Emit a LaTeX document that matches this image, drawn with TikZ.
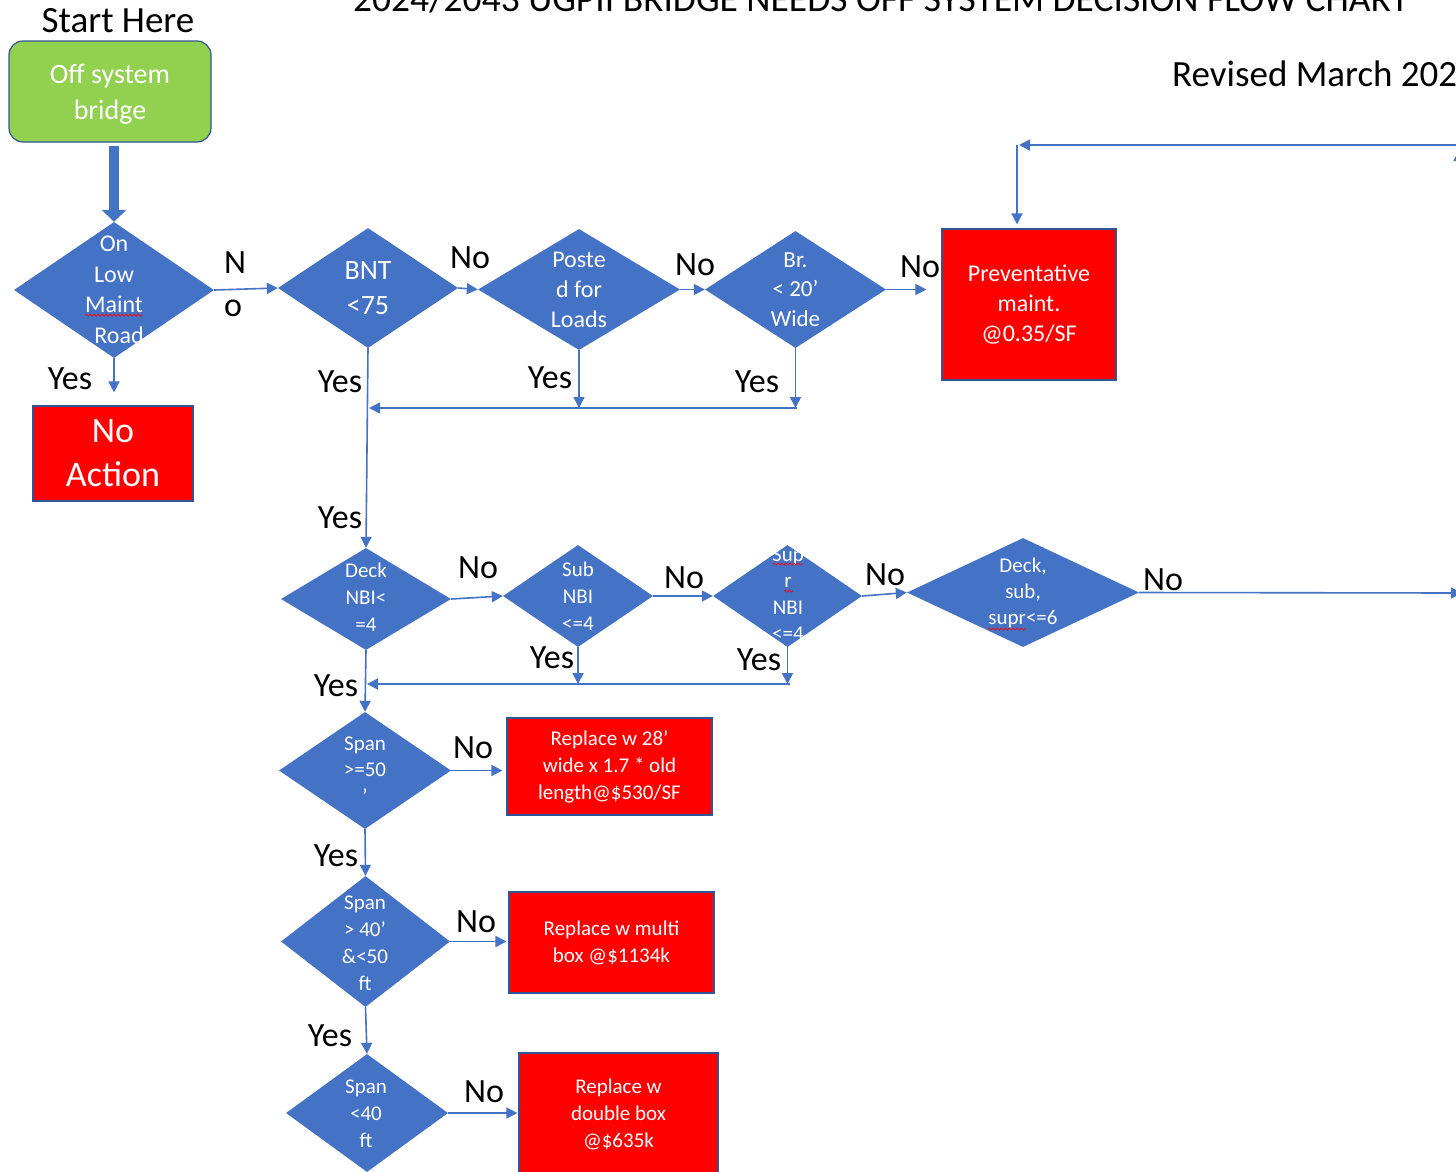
\documentclass[tikz,border=0pt]{standalone}
\usepackage{fontspec}
\setmainfont{Carlito}
\usetikzlibrary{shapes.geometric,arrows.meta,decorations.pathmorphing}
\definecolor{obl}{RGB}{68,114,196}
\definecolor{ogr}{RGB}{146,208,80}
\definecolor{oedge}{RGB}{47,85,151}
\definecolor{ored}{RGB}{255,0,0}
\newcommand\fz[2]{\fontsize{#1pt}{#2pt}\selectfont}
\begin{document}
\begin{tikzpicture}[x=1pt,y=-1pt,
  dia/.style={diamond, fill=obl, draw=none, inner sep=0pt},
  tx/.style={text=white, align=center, inner sep=0pt},
  lbl/.style={font=\fz{34}{40}, inner sep=0pt, text=black},
  con/.style={draw=obl, line width=1.6pt, -{Triangle[length=11pt,width=11pt]}},
  redbox/.style={rectangle, fill=ored, draw=oedge, line width=1.2pt, inner sep=0pt, text=white, align=center},
  squig/.style={draw=red, line width=0.7pt, decorate, decoration={snake, amplitude=1pt, segment length=4pt}},
]
\clip (0,0) rectangle (1456,1171);
\useasboundingbox (0,0) rectangle (1456,1171);

% titles
\node[anchor=base west, inner sep=0pt, font=\fz{37.5}{44}] (title) at (353,11) {2024/2043 UGPII BRIDGE NEEDS OFF SYSTEM DECISION FLOW CHART};
\node[anchor=base west, inner sep=0pt, font=\fz{37}{44}] (rev) at (1172,86) {Revised March 2024};
\node[anchor=base, inner sep=0pt, font=\fz{37}{44}] (sh) at (118,32) {Start Here};

% start box
\node[rectangle, rounded corners=14pt, fill=ogr, draw=oedge, line width=1.2pt, minimum width=202pt, minimum height=101pt, inner sep=0pt] (start) at (110,91.5) {};
\node[tx, font=\fz{28}{36}] (startt) at (110,94) {Off system\\bridge};

% diamonds
\node[dia, minimum width=200pt, minimum height=136pt] (d1) at (114,290) {};
\node[tx, font=\fz{24}{30.5}] (d1t) at (d1) {On\\Low\\Maint\\\hspace*{10pt}Road};
\node[dia, minimum width=180pt, minimum height=120pt] (d2) at (368,288) {};
\node[tx, font=\fz{28}{35}] (d2t) at (d2) {BNT\\<75};
\node[dia, minimum width=202pt, minimum height=121pt] (d3) at (579,289.5) {};
\node[tx, font=\fz{24}{30}] (d3t) at (d3) {Poste\\d for\\Loads};
\node[dia, minimum width=181pt, minimum height=117pt] (d4) at (795.5,289.5) {};
\node[tx, font=\fz{23}{29.5}] (d4t) at (d4) {Br.\\< 20’\\Wide};

\node[dia, minimum width=170pt, minimum height=102pt] (d5) at (366,599) {};
\node[tx, font=\fz{21}{27}] (d5t) at (366,597) {Deck\\NBI<\\=4};
\node[dia, minimum width=150pt, minimum height=102pt] (d6) at (578,596) {};
\node[tx, font=\fz{21}{27}] (d6t) at (d6) {Sub\\NBI\\<=4};
\node[dia, minimum width=149pt, minimum height=102pt] (d7) at (787.5,596) {};
\node[tx, font=\fz{21}{26.5}] (d7t) at (788,594) {Sup\\r\\NBI\\<=4};
\node[dia, minimum width=232pt, minimum height=109pt] (d8) at (1023,592.5) {};
\node[tx, font=\fz{21}{26}] (d8t) at (1023,593) {Deck,\\sub,\\supr<=6};

\node[dia, minimum width=172pt, minimum height=117pt] (d9) at (365,770.5) {};
\node[tx, font=\fz{21}{26.5}] (d9t) at (365,770) {Span\\>=50\\’};
\node[dia, minimum width=169pt, minimum height=131pt] (d10) at (365.5,941.5) {};
\node[tx, font=\fz{21}{27}] (d10t) at (365,943) {Span\\> 40’\\\&<50\\ft};
\node[dia, minimum width=162pt, minimum height=118pt] (d11) at (367,1113) {};
\node[tx, font=\fz{21}{27}] (d11t) at (366,1114) {Span\\<40\\ft};

% boxes
\node[redbox, minimum width=160pt, minimum height=95pt, font=\fz{36}{44}] (na) at (113,453.5) {No\\Action};
\node[redbox, minimum width=174pt, minimum height=151pt, font=\fz{24}{30}] (pm) at (1029,304.5) {Preventative\\maint.\\@0.35/SF};
\node[redbox, minimum width=205pt, minimum height=97pt, font=\fz{21}{27}] (b1) at (609.5,766.5) {Replace w 28’\\wide x 1.7 * old\\length@\$530/SF};
\node[redbox, minimum width=205pt, minimum height=101pt, font=\fz{21}{27}] (b2) at (611.5,942.5) {Replace w multi\\box @\$1134k};
\node[redbox, minimum width=199pt, minimum height=140pt] (b3) at (618.5,1123) {};
\node[tx, font=\fz{21}{27}] (b3t) at (618.5,1114) {Replace w\\double box\\@\$635k};

% spell-check squiggles
\draw[squig] (85,315) -- (143,315);
\draw[squig] (997,313) -- (1050,313);
\draw[squig] (773,564) -- (803,564);
\draw[squig] (784,591) -- (793,591);
\draw[squig] (988,629) -- (1026,629);

% coordinates
\coordinate (j1) at (797,408);
\coordinate (j2) at (790,684);
\coordinate (r2) at (1462,593);
\coordinate (lt1) at (1462,145);
\coordinate (lt2) at (1019,145);
\coordinate (lt3) at (1017,145);
\coordinate (ua1) at (1459,320);
\coordinate (ua2) at (1459,150);

% connectors
\draw[draw=obl, line width=10pt, -{Triangle[length=12pt,width=24pt]}, shorten <=3pt] (start.south -| d1.north) -- (d1.north);
\draw[con] (d1.east) -- (d2.west);
\draw[con] (d2.east) -- (d3.west);
\draw[con] (d3.east) -- (d4.west);
\draw[con, shorten >=15pt] (d4.east) -- (d4.east -| pm.west);
\draw[con, shorten >=13pt] (d1.south) -- (d1.south |- na.north);
\draw[con] (d2.south) -- (d5.north);
\draw[con] (d3.south) -- (d3.south |- j1);
\draw[con] (d4.south) -- (d4.south |- j1);
\draw[con] (j1) -- ([xshift=1pt]j1 -| d2.south);

\draw[con] (d5.east) -- (d6.west);
\draw[con] (d6.east) -- (d7.west);
\draw[con] (d7.east) -- (d8.west);
\draw[con] (d8.east) -- (r2);
\draw[con] (d6.south) -- (d6.south |- j2);
\draw[con] (d7.south) -- (d7.south |- j2);
\draw[con] (j2) -- ([xshift=1pt]j2 -| d5.south);
\draw[con] (d5.south) -- (d9.north);
\draw[con, shorten >=4pt] (d9.east) -- (d9.east -| b1.west);
\draw[con] (d9.south) -- (d10.north);
\draw[con, shorten >=2pt] (d10.east) -- (d10.east -| b2.west);
\draw[con] (d10.south) -- (d11.north);
\draw[con, shorten >=1pt] (d11.east) -- (d11.east -| b3.west);

\draw[con] (lt1) -- (lt2);
\draw[con, shorten >=4pt] (lt3) -- (lt3 |- pm.north);
\draw[con] (ua1) -- (ua2);

% labels
\node[lbl] (n1a) at (235,263) {N};
\node[lbl] (n1b) at (233,308) {o};
\node[lbl] (n2) at (470,258) {No};
\node[lbl] (n3) at (695,265) {No};
\node[lbl] (n4) at (920,267) {No};
\node[lbl] (y1) at (70,379) {Yes};
\node[lbl] (y2) at (340,382) {Yes};
\node[lbl] (y3) at (550,378) {Yes};
\node[lbl] (y4) at (757,382) {Yes};
\node[lbl] (y5) at (340,518) {Yes};
\node[lbl] (n5) at (478,568) {No};
\node[lbl] (n6) at (684,578) {No};
\node[lbl] (n7) at (885,575) {No};
\node[lbl] (n8) at (1163,580) {No};
\node[lbl] (y6) at (552,658) {Yes};
\node[lbl] (y7) at (759,660) {Yes};
\node[lbl] (y8) at (336,686) {Yes};
\node[lbl] (n9) at (473,748) {No};
\node[lbl] (y9) at (336,856) {Yes};
\node[lbl] (n10) at (476,922) {No};
\node[lbl] (y10) at (330,1036) {Yes};
\node[lbl] (n11) at (484,1092) {No};
\end{tikzpicture}
\end{document}
